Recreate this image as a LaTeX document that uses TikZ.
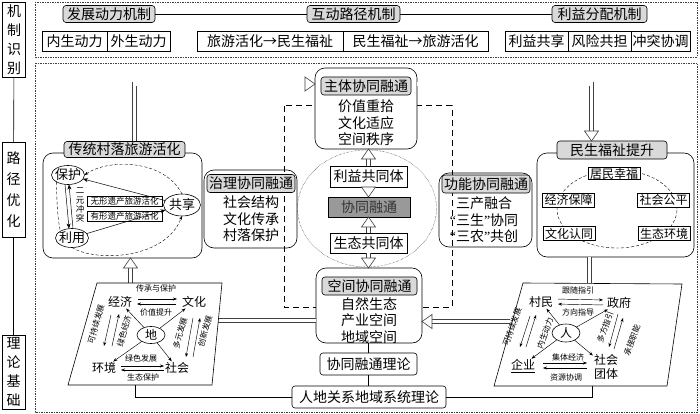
\documentclass[tikz,border=0pt]{standalone}
\usepackage{fontspec}
\setmainfont{Noto Sans CJK SC}
\newfontfamily\lat{Liberation Serif}
\usetikzlibrary{arrows.meta,calc,shapes.geometric}
\newcommand\hhead[2]{\path ($#2!10pt!#1$) coordinate (hbase);
  \draw[draw=black!75, fill=white, line width=0.6pt] #2 -- ($(hbase)!7pt!90:#2$) -- ($(hbase)!7pt!-90:#2$) -- cycle;}
\newcommand\harrow[2]{\draw[dbl, shorten >=10pt] #1 -- #2; \hhead{#1}{#2}}
\begin{document}
\begin{tikzpicture}[x=1pt,y=1pt,
  line width=0.6pt,
  every node/.style={inner sep=0pt, outer sep=0pt},
  frame/.style={draw=black!75, line width=0.5pt, dash pattern=on 1.5pt off 1pt},
  lbl/.style={draw, align=center, minimum width=23pt},
  gt/.style={draw, rounded corners=3pt, fill=black!15, font=\fontsize{14}{16}\selectfont},
  wb/.style={draw, fill=white, minimum height=20pt, font=\fontsize{14}{16}\selectfont},
  ob/.style={draw, rounded corners=10pt, fill=white},
  obn/.style={draw, rounded corners=10pt},
  body/.style={align=center, font=\fontsize{14}{16.5}\selectfont},
  cb/.style={draw, fill=white, font=\fontsize{14}{16}\selectfont},
  sb/.style={draw, fill=white, inner xsep=2pt, inner ysep=1.5pt, font=\fontsize{12}{14}\selectfont},
  mid/.style={font=\fontsize{12}{14}\selectfont},
  tiny/.style={font=\fontsize{8}{9}\selectfont},
  ell/.style={draw, ellipse, font=\fontsize{13}{14}\selectfont},
  dbl/.style={draw=black!75, double distance=3.5pt, line width=0.6pt},
  ar/.style={-{Stealth[length=5pt,width=4pt]}, line width=0.5pt},
  sar/.style={-{Stealth[length=4pt,width=3pt]}, line width=0.45pt},
  dar/.style={densely dashed, line width=0.4pt, -{Stealth[length=4pt,width=3pt]}},
]
\fill[white] (0,0) rectangle (700,-414);
\useasboundingbox (0,0) rectangle (700,-414);

% frames
\draw[frame] (35,-2) rectangle (697,-57);
\draw[frame] (35,-63) rectangle (697,-412);

% left labels
\node[lbl, minimum height=75pt, font=\fontsize{14}{19}\selectfont] (L1) at (14,-40) {机\\制\\识\\别};
\node[lbl, minimum height=95pt, font=\fontsize{14}{21}\selectfont] (L2) at (13.5,-189.5) {路\\径\\优\\化};
\node[lbl, minimum height=74pt, font=\fontsize{14}{19}\selectfont] (L3) at (13.5,-372) {理\\论\\基\\础};
\draw (L1) -- (L2) (L2) -- (L3);

% top row
\node[gt, minimum width=92pt, minimum height=17pt] (T1) at (109,-14) {发展动力机制};
\node[gt, minimum width=93pt, minimum height=17pt] (T2) at (353.5,-14) {互动路径机制};
\node[gt, minimum width=95pt, minimum height=17pt] (T3) at (599.5,-14) {利益分配机制};
\draw (T1) -- (T2) (T2) -- (T3);
\node[wb, minimum width=65pt] (A1) at (74.5,-41) {内生动力};
\node[wb, minimum width=63pt, anchor=west] (A2) at (A1.east) {外生动力};
\node[wb, minimum width=146pt] (B1) at (270,-41) {旅游活化→民生福祉};
\node[wb, minimum width=145pt, anchor=west] (B2) at (B1.east) {民生福祉→旅游活化};
\node[wb, minimum width=63pt] (C1) at (536.5,-41) {利益共享};
\node[wb, minimum width=63pt, anchor=west] (C2) at (C1.east) {风险共担};
\node[wb, minimum width=59pt, anchor=west] (C3) at (C2.east) {冲突协调};

% central dashed frame and ellipse
\draw[dash pattern=on 6pt off 4pt, line width=1pt] (284,-106) rectangle (452,-307);
\draw[densely dotted, line width=0.4pt] (367,-208.5) ellipse [x radius=69.5, y radius=58.5];

% governance / function
\node[obn, minimum width=93pt, minimum height=78pt] (ZL) at (250.5,-209) {};
\node[gt, minimum width=88pt, minimum height=18pt] (ZLt) at (251,-183.5) {治理协同融通};
\node[body] (ZLb) at (251,-219) {社会结构\\文化传承\\村落保护};
\node[obn, minimum width=93pt, minimum height=74pt] (GN) at (485.5,-210) {};
\node[gt, minimum width=88pt, minimum height=18pt] (GNt) at (486,-184) {功能协同融通};
\node[body] (GNb) at (484,-220) {三产融合\\{\lat “}三生{\lat ”}协同\\{\lat “}三农{\lat ”}共创};

% main subject & space
\node[ob, minimum width=102pt, minimum height=81pt] (Z) at (366,-108.5) {};
\node[gt, minimum width=90pt, minimum height=18pt] (Zt) at (366,-86) {主体协同融通};
\node[body] (Zb) at (366,-123) {价值重拾\\文化适应\\空间秩序};
\node[ob, minimum width=106pt, minimum height=75pt] (K) at (369,-305.5) {};
\node[gt, minimum width=95pt, minimum height=18pt] (Kt) at (369.5,-286) {空间协同融通};
\node[body] (Kb) at (369,-320.5) {自然生态\\产业空间\\地域空间};

% center column
\node[cb, minimum width=77pt, minimum height=21pt] (LY) at (368.5,-176.5) {利益共同体};
\node[draw, fill=black!40, minimum width=82pt, minimum height=20pt, font=\fontsize{14}{16}\selectfont, text=black!80] (XT) at (369,-207) {协同融通};
\node[cb, minimum width=77pt, minimum height=20pt] (ST) at (368.5,-243) {生态共同体};
\harrow{(LY.north)}{(LY.north |- Z.south)}
\harrow{(LY.south)}{(LY.south |- XT.north)}
\harrow{(ST.north)}{(ST.north |- XT.south)}
\harrow{(ST.south)}{(ST.south |- K.north)}

% traditional village cluster
\node[obn, minimum width=159pt, minimum height=105pt] (CT) at (122.5,-205.5) {};
\node[gt, minimum width=121pt, minimum height=16pt] (CTt) at (124.5,-149.5) {传统村落旅游活化};
\node[ell, minimum width=33pt, minimum height=19pt] (BH) at (68,-175) {\makebox[0pt]{保护}};
\node[ell, minimum width=33pt, minimum height=19pt] (LYo) at (72,-238) {\makebox[0pt]{利用}};
\node[ell, minimum width=37pt, minimum height=22pt] (GX) at (182,-205) {\makebox[0pt]{共享}};
\node[draw, fill=white, minimum width=75pt, minimum height=10pt, font=\fontsize{8.5}{9}\selectfont] (WX) at (124.5,-201) {无形遗产旅游活化};
\node[draw, fill=white, minimum width=75pt, minimum height=10pt, font=\fontsize{8.5}{9}\selectfont] (YX) at (124.5,-216) {有形遗产旅游活化};
\node[align=center, font=\fontsize{8.5}{9.2}\selectfont] (EY) at (80,-205) {二\\元\\冲\\突};
\draw[ar] (GX) -- (BH);
\draw[ar] (LYo) -- (GX);
\draw[ar] ([xshift=-3pt]BH.south) -- ([xshift=-3pt]LYo.north);
\draw[ar] ([xshift=1pt]LYo.north) -- ([xshift=1pt]BH.south);
\draw[dar] (GX.north) .. controls (165,-160) and (110,-158) .. (BH.east);
\draw[dar] (LYo.south) .. controls (95,-262) and (165,-260) .. (GX.south);
\draw[densely dashed, line width=0.4pt] (BH.south west) .. controls (57,-200) and (57,-215) .. (LYo.north west);

% welfare cluster
\node[obn, minimum width=157pt, minimum height=104pt] (MS) at (615.5,-205) {};
\node[gt, minimum width=110pt, minimum height=18pt] (MSt) at (612,-150) {民生福祉提升};
\draw[densely dashed, line width=0.4pt] (617,-209) ellipse [x radius=60, y radius=39];
\node[sb, inner ysep=0.5pt] (m1) at (614,-173.5) {居民幸福};
\node[sb] (m2) at (568.5,-200) {经济保障};
\node[sb] (m3) at (663.5,-200) {社会公平};
\node[sb] (m4) at (569,-233.5) {文化认同};
\node[sb] (m5) at (664,-233.5) {生态环境};

% bent hollow arrows
\coordinate (zin) at ($(Z.north west)+(0,-16)$);
\coordinate (zin0) at ($(zin)+(-20,0)$);
\coordinate (zout) at ($(Z.north east)+(0,-16)$);
\coordinate (ctup) at ($(CTt.north)+(10,0)$);
\coordinate (msin) at ($(MSt.north)+(-20.5,0)$);
\coordinate (msin0) at ($(msin)+(0,20)$);
\draw[dbl, shorten >=10pt] (ctup) |- (zin);
\hhead{(zin0)}{(zin)}
\draw[dbl, shorten >=10pt] (zout) -| (msin);
\hhead{(msin0)}{(msin)}

% parallelogram ports
\coordinate (p1t) at (130.5,-283);
\coordinate (p1r) at (218,-320.5);
\coordinate (p1b) at (135,-385);
\coordinate (p2t) at (589.5,-283);
\coordinate (p2l) at (510,-321.5);
\coordinate (p2b) at (592,-386);
\harrow{(p1t)}{(p1t |- CT.south)}
\draw[dbl] (p1r) -- (p1r -| K.west);
\harrow{(p2l)}{(p2l -| K.east)}
\draw[dbl] (p2t) -- (p2t |- MS.south);

% left parallelogram
\draw[fill=white] (97,-283) -- (222,-283) -- (212,-385) -- (68,-385) -- cycle;
\node[mid] (e1) at (120,-302) {经济};
\node[mid] (e2) at (194,-302) {文化};
\node[mid] (e3) at (104,-368) {环境};
\node[mid] (e4) at (177,-368) {社会};
\node[ell, minimum width=28pt, minimum height=17pt, font=\fontsize{12}{14}\selectfont] (di) at (151,-335) {\makebox[0pt]{地}};
\node[tiny] at (156,-288) {传承与保护};
\node[tiny] at (156,-312) {价值提升};
\node[tiny] at (141,-358) {绿色发展};
\node[tiny] at (143,-377) {生态保护};
\node[tiny, rotate=74] at (96,-324) {可持续发展};
\node[tiny, rotate=74] at (124,-331) {绿色经济};
\node[tiny, rotate=74] at (180,-333) {多元发展};
\node[tiny, rotate=74] at (205,-331) {创新发展};
\draw[sar, shorten <=6pt, shorten >=5pt] ([yshift=3pt]e1.east) -- ([yshift=3pt]e2.west);
\draw[sar, shorten <=6pt, shorten >=5pt] ([yshift=-2pt]e2.west) -- ([yshift=-2pt]e1.east);
\draw[sar, shorten <=5pt, shorten >=1pt] ([yshift=2pt]e3.east) -- ([yshift=2pt]e4.west);
\draw[sar, shorten <=1pt, shorten >=5pt] ([yshift=-2pt]e4.west) -- ([yshift=-2pt]e3.east);
\draw[sar] (111,-315) -- (104,-346);
\draw[sar] (112,-346) -- (119,-314);
\draw[sar] (193,-318) -- (186,-357);
\draw[sar] (193,-357) -- (200,-318);
\foreach \t in {e1,e2,e3,e4} \draw[sar, shorten >=1.5pt] (di) -- (\t);

% right parallelogram
\draw[fill=white] (523,-283) -- (682,-284) -- (667,-386) -- (494,-386) -- cycle;
\node[mid] (v1) at (541,-302) {村民};
\node[mid] (v2) at (619,-303) {政府};
\node[mid] (v3) at (523,-365) {企业};
\draw[line width=0.5pt] ([yshift=-1.5pt]v3.south west) -- ([yshift=-1.5pt]v3.south east);
\node[mid, align=center, font=\fontsize{12}{14}\selectfont] (v4) at (606,-366.5) {社会\\团体};
\node[ell, minimum width=28pt, minimum height=18pt, font=\fontsize{12}{14}\selectfont] (ren) at (566,-333) {\makebox[0pt]{人}};
\node[tiny] at (578,-290) {跟随指引};
\node[tiny] at (578,-312) {方向指导};
\node[tiny] at (568,-357) {集体经济};
\node[tiny] at (566,-377) {资源协调};
\node[tiny, rotate=70] at (512,-327) {可持续发展};
\node[tiny, rotate=70] at (545,-333) {内生动力};
\node[tiny, rotate=70] at (605,-327) {多方指引};
\node[tiny, rotate=70] at (632,-340) {承接职能};
\draw[sar, shorten <=5pt, shorten >=4pt] ([yshift=3pt]v1.east) -- ([yshift=3pt]v2.west);
\draw[sar, shorten <=4pt, shorten >=5pt] ([yshift=-2pt]v2.west) -- ([yshift=-2pt]v1.east);
\draw[sar] (543,-363) -- (587,-363);
\draw[sar] (587,-368) -- (543,-368);
\draw[sar] (530,-316) -- (520,-347);
\draw[sar] (526,-347) -- (536,-315);
\draw[sar] (618,-314) -- (609,-347);
\draw[sar] (614,-349) -- (623,-318);
\foreach \t in {v1,v2,v3,v4} \draw[sar, shorten >=1.5pt] (ren) -- (\t);

% theory base
\node[draw, rounded corners=3pt, fill=white, minimum width=97pt, minimum height=22pt, font=\fontsize{14}{16}\selectfont] (XL) at (368.5,-364) {协同融通理论};
\node[draw, rounded corners=3pt, fill=white, minimum width=154pt, minimum height=22pt, font=\fontsize{14}{16}\selectfont] (RD) at (369,-397) {人地关系地域系统理论};
\draw (XL.north |- K.south) -- (XL.north);
\draw (XL.south) -- (XL.south |- RD.north);
\draw (RD.west) -| (p1b);
\draw (RD.east) -| (p2b);
\end{tikzpicture}
\end{document}
